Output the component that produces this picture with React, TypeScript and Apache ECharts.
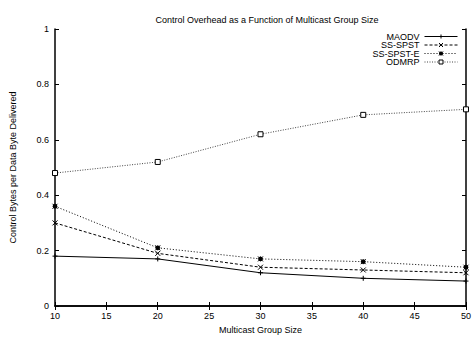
import React, { useEffect, useRef } from "react";
import * as echarts from "echarts";

const groupSizes = [10, 20, 30, 40, 50];
const maodv = [0.18, 0.17, 0.12, 0.1, 0.09];
const ssSpst = [0.3, 0.19, 0.14, 0.13, 0.12];
const ssSpstE = [0.36, 0.21, 0.17, 0.16, 0.14];
const odmrp = [0.48, 0.52, 0.62, 0.69, 0.71];
const seriesNames = ["MAODV", "SS-SPST", "SS-SPST-E", "ODMRP"];

const FONT = "Liberation Sans, Arial, sans-serif";

const PLUS = "path://M0,5L10,5M5,0L5,10";
const CROSS = "path://M0,0L10,10M0,10L10,0";
const STAR = "path://M0,0L10,10M0,10L10,0M5,0L5,10M0,5L10,5M2,2L8,2L8,8L2,8Z";

export default function App() {
  const ref = useRef<HTMLDivElement>(null);
  useEffect(() => {
    const chart = echarts.init(ref.current!, null, { renderer: "svg" });
    const mk = (vals: number[]) => vals.map((v, i) => [groupSizes[i], v]);
    const legendRows = [37, 45.5, 54, 62.5];
    chart.setOption({
      animation: false,
      backgroundColor: "#fff",
      title: {
        text: "Control Overhead as a Function of Multicast Group Size",
        left: 262,
        top: 10,
        textAlign: "center",
        textStyle: { fontFamily: FONT, fontSize: 9, fontWeight: "normal", color: "#000" },
      },
      legend: seriesNames.map((n, i) => ({
        data: [n],
        orient: "vertical",
        align: "right",
        right: 16,
        top: legendRows[i] - 5,
        padding: 0,
        itemWidth: 33,
        itemHeight: 5,
        itemGap: 0,
        selectedMode: false,
        lineStyle: { width: 1 },
        itemStyle: { borderWidth: 1 },
        textStyle: { fontFamily: FONT, fontSize: 9, color: "#000", padding: [0, 0, 0, 0] },
      })),
      grid: { left: 53, right: 4, top: 29, bottom: 30, containLabel: false },
      xAxis: [
        {
          type: "value",
          min: 10,
          max: 50,
          interval: 5,
          name: "Multicast Group Size",
          nameLocation: "middle",
          nameGap: 19,
          nameTextStyle: { fontFamily: FONT, fontSize: 9, color: "#000" },
          axisLine: { lineStyle: { color: "#000", width: 1.5 } },
          axisTick: { inside: true, length: 4, lineStyle: { color: "#000" } },
          axisLabel: { fontFamily: FONT, fontSize: 9, color: "#000", margin: 5 },
          splitLine: { show: false },
        },
        {
          type: "value",
          position: "top",
          min: 10,
          max: 50,
          interval: 5,
          axisLine: { lineStyle: { color: "#000", width: 1.5 } },
          axisTick: { inside: true, length: 4, lineStyle: { color: "#000" } },
          axisLabel: { show: false },
          splitLine: { show: false },
        },
      ],
      yAxis: [
        {
          type: "value",
          min: 0,
          max: 1,
          interval: 0.2,
          name: "Control Bytes per Data Byte Delivered",
          nameLocation: "middle",
          nameGap: 38,
          nameTextStyle: { fontFamily: FONT, fontSize: 9, color: "#000" },
          axisLine: { show: true, lineStyle: { color: "#000", width: 1.5 } },
          axisTick: { show: true, inside: true, length: 4, lineStyle: { color: "#000" } },
          axisLabel: {
            fontFamily: FONT,
            fontSize: 9,
            color: "#000",
            margin: 6,
            formatter: (v: number) => String(Math.round(v * 10) / 10),
          },
          splitLine: { show: false },
        },
        {
          type: "value",
          position: "right",
          min: 0,
          max: 1,
          interval: 0.2,
          axisLine: { show: true, lineStyle: { color: "#000", width: 1.5 } },
          axisTick: { show: true, inside: true, length: 4, lineStyle: { color: "#000" } },
          axisLabel: { show: false },
          splitLine: { show: false },
        },
      ],
      series: [
        {
          name: "MAODV",
          type: "line",
          data: mk(maodv),
          symbol: PLUS,
          symbolSize: 5,
          lineStyle: { color: "#000", width: 1 },
          itemStyle: { color: "#000", borderColor: "#000", borderWidth: 1 },
        },
        {
          name: "SS-SPST",
          type: "line",
          data: mk(ssSpst),
          symbol: CROSS,
          symbolSize: 5,
          lineStyle: { color: "#000", width: 1, type: [3, 2] },
          itemStyle: { color: "#000", borderColor: "#000", borderWidth: 1 },
        },
        {
          name: "SS-SPST-E",
          type: "line",
          data: mk(ssSpstE),
          symbol: STAR,
          symbolSize: 5,
          lineStyle: { color: "#000", width: 1, type: [1, 2] },
          itemStyle: { color: "#000", borderColor: "#000", borderWidth: 1 },
        },
        {
          name: "ODMRP",
          type: "line",
          data: mk(odmrp),
          symbol: "rect",
          symbolSize: 5,
          lineStyle: { color: "#444", width: 1, type: [1, 1.5] },
          itemStyle: { color: "#fff", borderColor: "#000", borderWidth: 1 },
        },
      ],
    });
    return () => chart.dispose();
  }, []);
  return <div ref={ref} style={{ width: 474, height: 339, position: "absolute", left: 0, top: 0 }} />;
}
